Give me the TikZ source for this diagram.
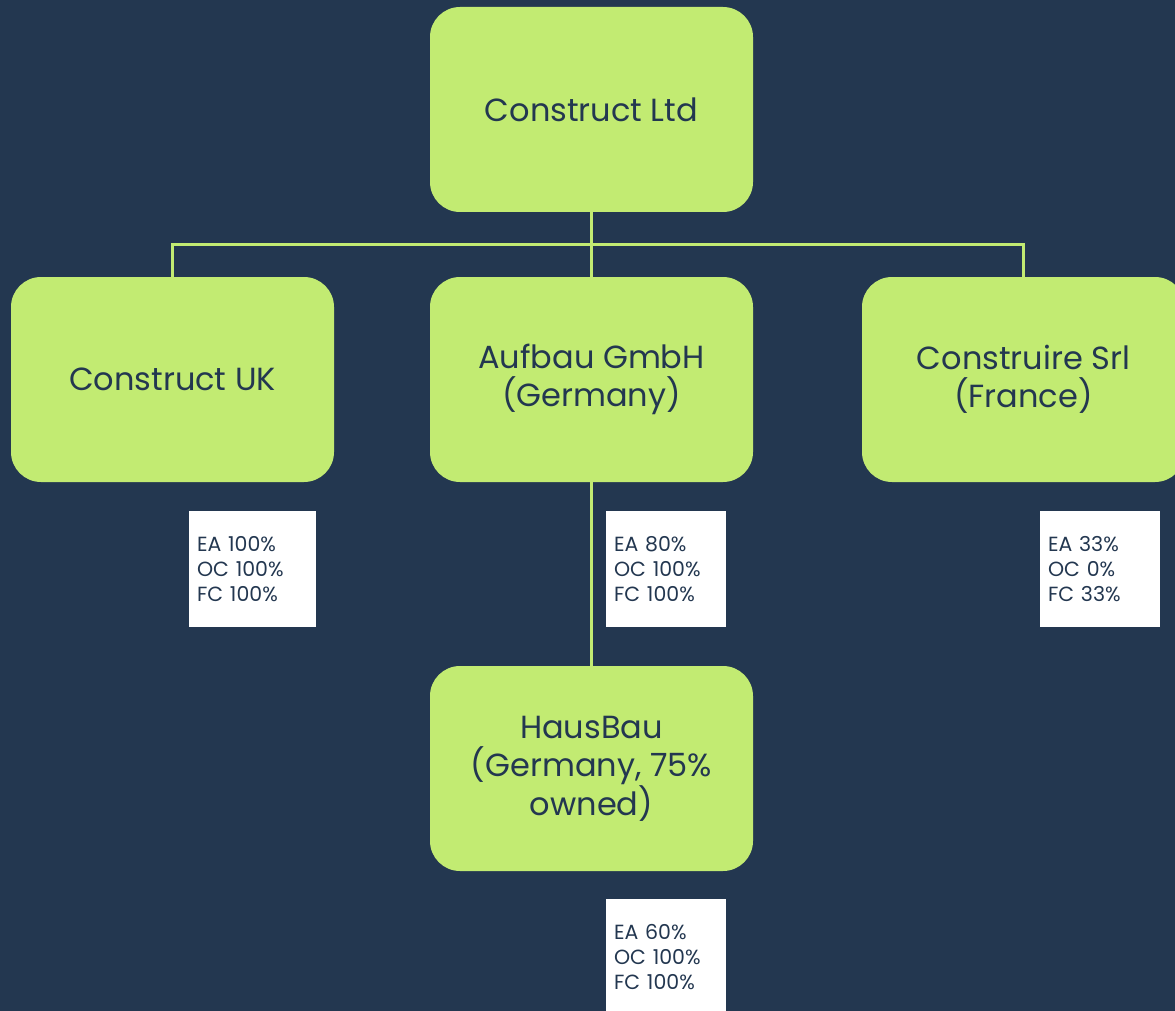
\documentclass[tikz,border=0pt]{standalone}
\usepackage{fontspec}
\setmainfont{Poppins}
\usepackage{xcolor}
\definecolor{navy}{HTML}{233750}
\definecolor{lime}{HTML}{C2EB72}

\begin{document}
\begin{tikzpicture}[x=1pt,y=-1pt,
  company/.style={rectangle, rounded corners=30pt, fill=lime, text=navy,
    minimum width=323pt, minimum height=205pt, align=center,
    font=\fontsize{32}{38.5}\selectfont},
  share/.style={rectangle, fill=white, text=navy, minimum height=116pt,
    inner xsep=8pt, align=left, font=\fontsize{20.5}{25.3}\selectfont},
  link/.style={lime, line width=3pt}]
% Background and frame
\clip (0,0) rectangle (1175,1011);
\fill[navy] (0,0) rectangle (1175,1011);

% Companies
\node[company] (ltd) at (591.5,109.5) {Construct Ltd};
\node[company] (uk) at (172.5,379.5) {Construct UK};
\node[company] (aufbau) at (591.5,379.5) {Aufbau GmbH\\(Germany)};
\node[company] (srl) at (1023.5,379.5) {Construire Srl\\(France)};
\node[company] (hausbau) at (591.5,768.5) {HausBau\\(Germany, 75\%\\owned)};

% Connectors
\coordinate (bus) at (591.5,244);
\draw[link] (ltd.south) -- (bus);
\draw[link] (uk.north) |- (bus) -| (srl.north);
\draw[link] (bus) -- (aufbau.north);
\draw[link] (aufbau.south) -- (hausbau.north);

% Shareholdings
\node[share, text width=111pt] (ukpct) at (252.5,569) {EA 100\%\\OC 100\%\\FC 100\%};
\node[share, text width=104pt] (aufbaupct) at (666,569) {EA 80\%\\OC 100\%\\FC 100\%};
\node[share, text width=104pt] (srlpct) at (1100,569) {EA 33\%\\OC 0\%\\FC 33\%};
\node[share, text width=104pt] (hausbaupct) at (666,957) {EA 60\%\\OC 100\%\\FC 100\%};
\end{tikzpicture}
\end{document}
